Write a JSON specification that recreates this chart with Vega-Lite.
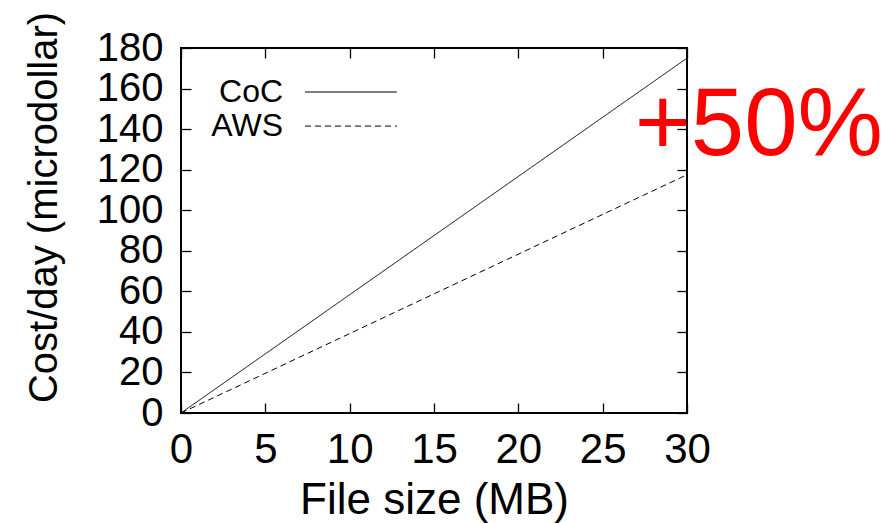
{
  "$schema": "https://vega.github.io/schema/vega-lite/v6.json",
  "width": 506,
  "height": 365,
  "autosize": {"type": "none"},
  "padding": {"left": 181, "top": 48, "right": 203, "bottom": 110},
  "background": "white",
  "config": {
    "view": {"stroke": "black", "strokeWidth": 2},
    "font": "Liberation Sans",
    "axis": {
      "domain": false,
      "grid": false,
      "tickColor": "black",
      "tickWidth": 1.3,
      "tickSize": -10,
      "labelFont": "Liberation Sans",
      "labelFontSize": 42,
      "labelColor": "black",
      "titleFont": "Liberation Sans",
      "titleFontWeight": "normal",
      "titleColor": "black",
      "labelFlush": false,
      "labelOverlap": false
    }
  },
  "datasets": {
    "lines": [
      {"size": 0, "cost": 0, "series": "CoC"},
      {"size": 30, "cost": 175, "series": "CoC"},
      {"size": 0, "cost": 0, "series": "AWS"},
      {"size": 30, "cost": 117.5, "series": "AWS"}
    ],
    "legend": [
      {"series": "CoC", "label": "CoC", "x1": 7.35, "x2": 12.8, "lx": 6.05, "ly": 158.3},
      {"series": "AWS", "label": "AWS", "x1": 7.35, "x2": 12.8, "lx": 6.05, "ly": 141.5}
    ],
    "note": [{"text": "+50%", "x": 26.9, "y": 127.2}]
  },
  "resolve": {"axis": {"x": "independent", "y": "independent"}},
  "layer": [
    {
      "data": {"name": "lines"},
      "mark": {"type": "line", "color": "black", "strokeWidth": 1},
      "encoding": {
        "x": {"field": "size", "type": "quantitative",
              "scale": {"domain": [0, 30], "nice": false, "zero": false},
              "axis": {"orient": "bottom", "values": [0, 5, 10, 15, 20, 25, 30], "title": "File size (MB)", "titleFontSize": 44, "labelPadding": 26, "titlePadding": 8}},
        "y": {"field": "cost", "type": "quantitative",
              "scale": {"domain": [0, 180], "nice": false, "zero": false},
              "axis": {"orient": "left", "values": [0, 20, 40, 60, 80, 100, 120, 140, 160, 180], "title": "Cost/day (microdollar)", "titleFontSize": 40, "labelFontSize": 40, "labelPadding": 28, "titlePadding": 32, "titleY": 159}},
        "detail": {"field": "series"},
        "strokeDash": {"field": "series", "type": "nominal",
                       "scale": {"domain": ["CoC", "AWS"], "range": [[1, 0], [6, 4]]},
                       "legend": null}
      }
    },
    {
      "data": {"name": "legend"},
      "mark": {"type": "rule", "color": "black", "strokeWidth": 1},
      "encoding": {
        "x": {"field": "x1", "type": "quantitative",
              "axis": {"orient": "top", "values": [0, 5, 10, 15, 20, 25, 30], "labels": false, "title": null}},
        "x2": {"field": "x2"},
        "y": {"field": "ly", "type": "quantitative",
              "axis": {"orient": "right", "values": [0, 20, 40, 60, 80, 100, 120, 140, 160, 180], "labels": false, "title": null}},
        "strokeDash": {"field": "series", "type": "nominal",
                       "scale": {"domain": ["CoC", "AWS"], "range": [[1, 0], [6, 4]]},
                       "legend": null}
      }
    },
    {
      "data": {"name": "legend"},
      "mark": {"type": "text", "align": "right", "baseline": "middle", "fontSize": 32, "font": "Liberation Sans", "color": "black"},
      "encoding": {
        "x": {"field": "lx", "type": "quantitative", "axis": null},
        "y": {"field": "ly", "type": "quantitative", "axis": null},
        "text": {"field": "label"}
      }
    },
    {
      "data": {"name": "note"},
      "mark": {"type": "text", "align": "left", "baseline": "alphabetic", "fontSize": 96, "font": "Liberation Sans", "color": "#ff0000", "clip": false},
      "encoding": {
        "x": {"field": "x", "type": "quantitative", "axis": null},
        "y": {"field": "y", "type": "quantitative", "axis": null},
        "text": {"field": "text"}
      }
    }
  ]
}
